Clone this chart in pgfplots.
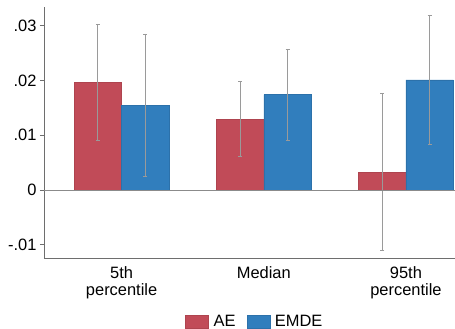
\documentclass[border=0pt]{standalone}
\usepackage{pgfplots}
\pgfplotsset{compat=1.18}
\usepackage{fontspec}
\setmainfont{Liberation Sans}
\definecolor{aered}{HTML}{C14B58}
\definecolor{emdeblue}{HTML}{317EBD}
\definecolor{axgray}{HTML}{6E6E6E}
\definecolor{errgray}{HTML}{9A9A9A}
\begin{document}
\begin{tikzpicture}[font=\fontsize{16.5}{19}\selectfont]
\begin{axis}[
  scale only axis,
  width=411bp, height=251bp,
  xmin=-0.546, xmax=2.345,
  ymin=-0.0124, ymax=0.0334,
  scaled y ticks=false,
  ybar=0pt, bar width=0.334,
  axis x line*=bottom, axis y line*=left,
  axis line style={axgray, line width=0.8bp},
  xtick={0,1,2},
  xticklabels={{5th\\percentile},{Median},{95th\\percentile}},
  xticklabel style={align=center, font=\fontsize{16.5}{17.6}\selectfont, yshift=-1bp},
  major x tick style={draw=none},
  ytick={-0.01,0,0.01,0.02,0.03},
  yticklabels={-.01,0,.01,.02,.03},
  yticklabel style={font=\fontsize{16.5}{19}\selectfont},
  /pgf/number format/assume math mode=true,
  y tick style={axgray, line width=0.8bp},
  tick align=outside, major tick length=4bp,
  legend style={at={(0.513,-0.255)}, anchor=center, draw=none, legend columns=-1,
    font=\fontsize{16.5}{19}\selectfont,
    /tikz/every odd column/.append style={column sep=3bp},
    /tikz/every even column/.append style={column sep=9bp}},
  legend image code/.code={\fill[#1] (0bp,-6.5bp) rectangle (23bp,6.5bp);},
  error bars/y dir=both, error bars/y explicit,
  error bars/error bar style={errgray, line width=0.8bp},
  error bars/error mark options={rotate=90, errgray, mark size=2bp, line width=0.8bp},
  clip=false,
]
\addplot[ybar, draw=aered!90!black, line width=0.4bp, fill=aered]
  coordinates {(0,0.01965) +- (0,0.01056) (1,0.01296) +- (0,0.00681) (2,0.00328) +- (0,0.01436)};
\addplot[ybar, draw=emdeblue!90!black, line width=0.4bp, fill=emdeblue]
  coordinates {(0,0.01545) +- (0,0.01303) (1,0.0174) +- (0,0.00832) (2,0.0201) +- (0,0.01183)};
\addplot[sharp plot, draw=axgray!80, line width=0.8bp, forget plot, error bars/y dir=none]
  coordinates {(-0.546,0) (2.345,0)};
\legend{AE,EMDE}
\end{axis}
\pgfresetboundingbox
\path[use as bounding box] (current axis.south west) ++(-44bp,-71bp) rectangle ++(455bp,329bp);
\end{tikzpicture}
\end{document}
